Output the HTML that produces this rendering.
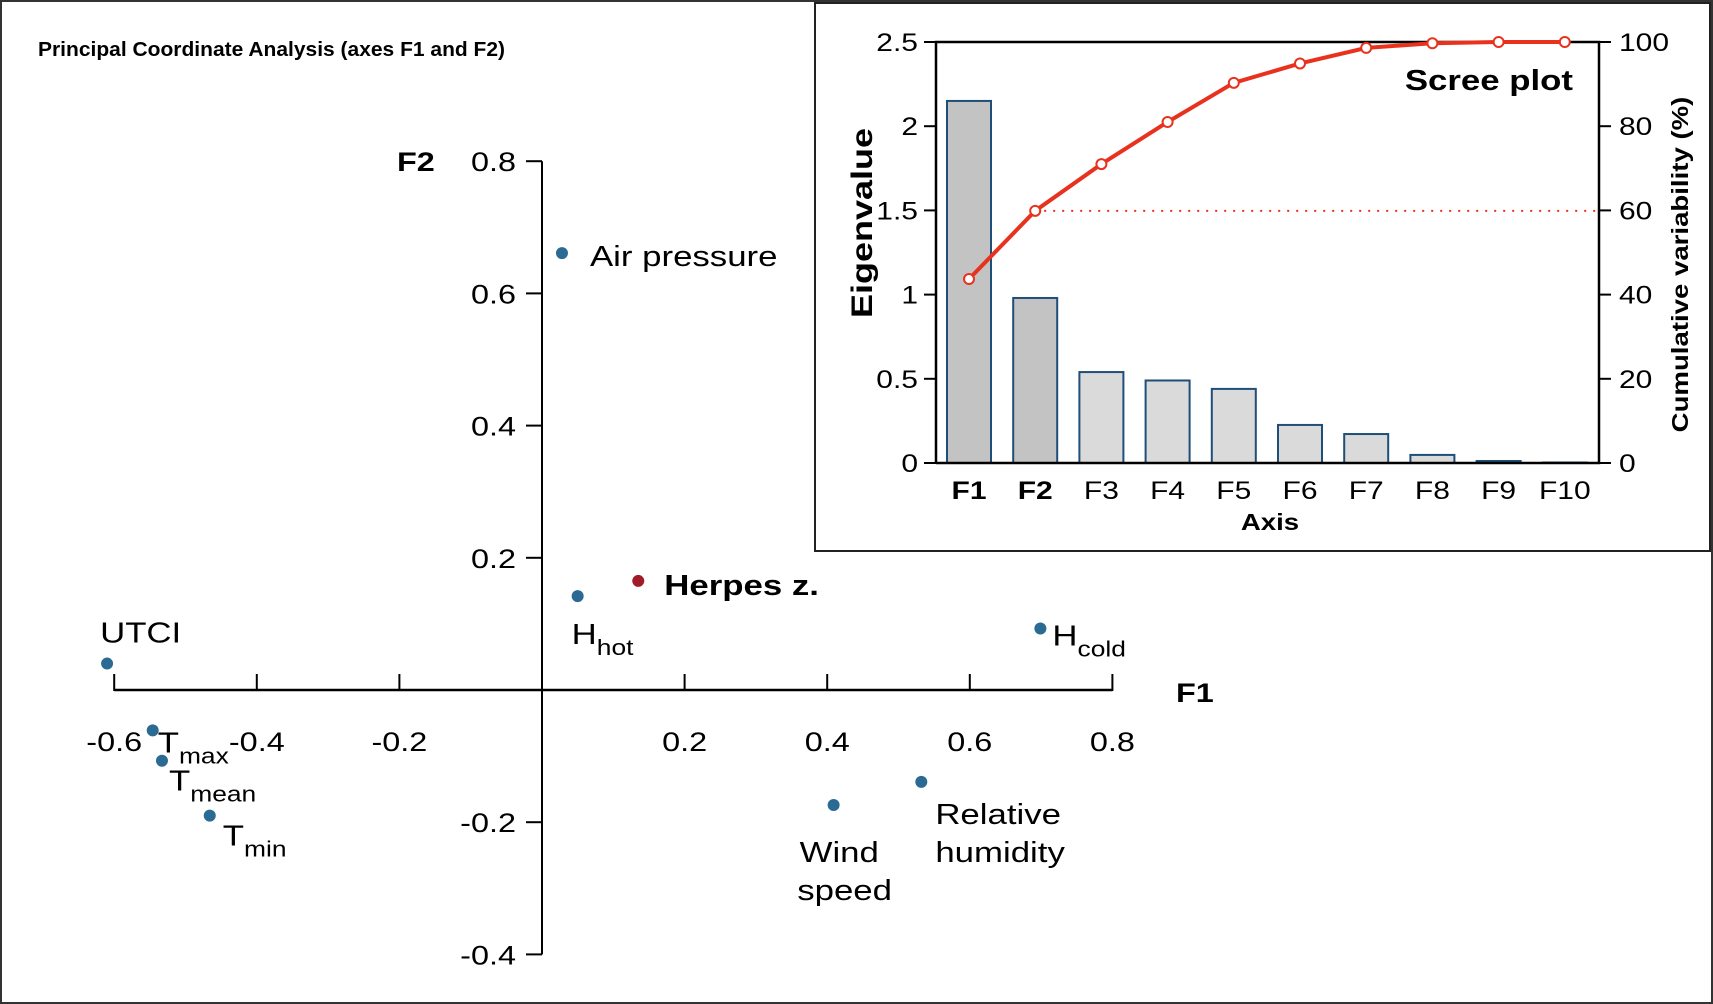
<!DOCTYPE html>
<html><head><meta charset="utf-8"><style>
html,body{margin:0;padding:0;background:#fff}
svg{display:block;font-family:"Liberation Sans",Arial,sans-serif}
</style></head><body>
<svg id="fig" width="1713" height="1004" viewBox="0 0 1713 1004" xmlns="http://www.w3.org/2000/svg">
<rect x="1" y="1" width="1711" height="1002" fill="#fff" stroke="#333" stroke-width="2"/>
<text transform="translate(38 56) scale(1.05 1)" font-size="20" font-weight="bold">Principal Coordinate Analysis (axes F1 and F2)</text>
<g id="main"></g>
<g id="inset"></g>
</svg>
<script>
const NS='http://www.w3.org/2000/svg';
const SX=1.2;
function mk(parent,tag,attrs,text){const e=document.createElementNS(NS,tag);for(const k in attrs)e.setAttribute(k,attrs[k]);if(text!==undefined)e.textContent=text;parent.appendChild(e);return e;}
function txt(parent,x,y,attrs,text,rot){const a=Object.assign({},attrs);a.transform=`translate(${x} ${y})`+(rot?` rotate(${rot})`:'')+` scale(${SX} 1)`;return mk(parent,'text',a,text);}

// ---------- PCoA data ----------
const varNames=['Air pressure','Herpes z.','H_hot','H_cold','UTCI','T_max','T_mean','T_min','Wind speed','Relative humidity'];
const f1Values=[0.028,0.135,0.05,0.699,-0.61,-0.546,-0.533,-0.466,0.409,0.532];
const f2Values=[0.661,0.165,0.142,0.093,0.04,-0.061,-0.107,-0.19,-0.174,-0.139];
const xTicks=[-0.6,-0.4,-0.2,0.2,0.4,0.6,0.8];
const yTicks=[0.8,0.6,0.4,0.2,-0.2,-0.4];

const X0=542,XS=713,Y0=690,YS=661;
const sx=v=>X0+v*XS, sy=v=>Y0-v*YS;
const main=document.getElementById('main');

let ax=mk(main,'line',{x1:sx(-0.6),x2:sx(0.8),y1:Y0,y2:Y0,stroke:'#000','stroke-width':2.5});


let ay=mk(main,'line',{x1:X0,x2:X0,y1:sy(0.8),y2:sy(-0.4),stroke:'#000','stroke-width':2});


xTicks.forEach(t=>{
  const l=mk(main,'line',{x1:sx(t),x2:sx(t),y1:Y0-16,y2:Y0+1,stroke:'#000','stroke-width':2});
  
  
  const tx=txt(main,sx(t),Y0+61,{'font-size':27,'text-anchor':'middle'},String(t));
  
  
});
yTicks.forEach(t=>{
  const l=mk(main,'line',{x1:X0-16,x2:X0,y1:sy(t),y2:sy(t),stroke:'#000','stroke-width':2});
  
  
  const tx=txt(main,X0-26,sy(t)+10,{'font-size':27,'text-anchor':'end'},String(t));
  
  
});
let f1t=txt(main,1176,702,{'font-size':27,'font-weight':'bold'},'F1');


let f2t=txt(main,397,171,{'font-size':27,'font-weight':'bold'},'F2');



// label offsets (relative to point)
const labOff=[[28,13],[26,14],[-6,48],[12,17],[-7,-21],[5,22],[7,30],[13,30],[-34,57],[14,42]];
varNames.forEach((n,i)=>{
  const px=sx(f1Values[i]),py=sy(f2Values[i]);
  const c=mk(main,'circle',{cx:px,cy:py,r:6,fill:i===1?'#a01c28':'#2b6a93'});
  
  
  const lx=px+labOff[i][0],ly=py+labOff[i][1];
  let t=txt(main,lx,ly,{'font-size':29,'font-weight':i===1?'bold':'normal'});
  
  
  if(n.includes('_')){
    const [a,b]=n.split('_');
    mk(t,'tspan',{},a);
    mk(t,'tspan',{dy:11,'font-size':22},b);
  } else if(n==='Wind speed'){
    mk(t,'tspan',{x:0},'Wind');mk(t,'tspan',{x:-2,dy:38},'speed');
  } else if(n==='Relative humidity'){
    mk(t,'tspan',{x:0},'Relative');mk(t,'tspan',{x:0,dy:38},'humidity');
  } else t.textContent=n;
});

// ---------- Scree data ----------
const axisLabels=['F1','F2','F3','F4','F5','F6','F7','F8','F9','F10'];
const eigenValues=[2.15,0.98,0.54,0.49,0.44,0.226,0.172,0.048,0.012,0.003];
const cumVariability=[43.7,59.9,71.0,81.0,90.3,94.9,98.6,99.7,100,100];
const eigTicks=[0,0.5,1,1.5,2,2.5];
const eigTickLabels=['0','0.5','1','1.5','2','2.5'];
const cumTicks=[0,20,40,60,80,100];

const inset=document.getElementById('inset');
let ib=mk(inset,'rect',{x:815,y:3,width:895,height:548,fill:'#fff',stroke:'#222','stroke-width':2});


const L=936,R=1599,B=463,T=42;
const bx=i=>969+i*66.2;
const ey=v=>B-v/2.5*(B-T);
const cy=v=>B-v/100*(B-T);

eigenValues.forEach((v,i)=>{
  const r=mk(inset,'rect',{x:bx(i)-22,y:ey(v),width:44,height:B-ey(v),fill:i<2?'#c3c3c3':'#dadada',stroke:'#1f4e79','stroke-width':2});
  
  
  const t=txt(inset,bx(i),B+36,{'font-size':25,'text-anchor':'middle','font-weight':i<2?'bold':'normal'},axisLabels[i]);
  
  
});
let fr=mk(inset,'path',{d:`M${L} ${B}V${T}H${R}V${B}H${L}`,fill:'none',stroke:'#000','stroke-width':2.5});


eigTicks.forEach((t,i)=>{
  const l=mk(inset,'line',{x1:L-12,x2:L,y1:ey(t),y2:ey(t),stroke:'#000','stroke-width':2});
  
  
  const tx=txt(inset,L-18,ey(t)+9,{'font-size':25,'text-anchor':'end'},eigTickLabels[i]);
  
  
});
cumTicks.forEach(t=>{
  const l=mk(inset,'line',{x1:R,x2:R+12,y1:cy(t),y2:cy(t),stroke:'#000','stroke-width':2});
  
  
  const tx=txt(inset,R+20,cy(t)+9,{'font-size':25},String(t));
  
  
});
let dl=mk(inset,'line',{x1:bx(1),x2:R,y1:cy(cumVariability[1]),y2:cy(cumVariability[1]),stroke:'#e8321e','stroke-width':2,'stroke-dasharray':'2 7'});


let pl=mk(inset,'polyline',{points:cumVariability.map((v,i)=>bx(i)+','+cy(v)).join(' '),fill:'none',stroke:'#e8321e','stroke-width':4});


cumVariability.forEach((v,i)=>{
  const c=mk(inset,'circle',{cx:bx(i),cy:cy(v),r:5,fill:'#fff',stroke:'#e8321e','stroke-width':2});
  
  
});
let st=txt(inset,1573,90,{'font-size':29,'font-weight':'bold','text-anchor':'end'},'Scree plot');


let el=txt(inset,872,223,{'font-size':30,'font-weight':'bold','text-anchor':'middle'},'Eigenvalue',-90);


let cl=txt(inset,1688,(B+T)/2+12,{'font-size':23,'font-weight':'bold','text-anchor':'middle'},'Cumulative variability (%)',-90);


let at=txt(inset,1270,530,{'font-size':23,'font-weight':'bold','text-anchor':'middle'},'Axis');


</script>
</body></html>
